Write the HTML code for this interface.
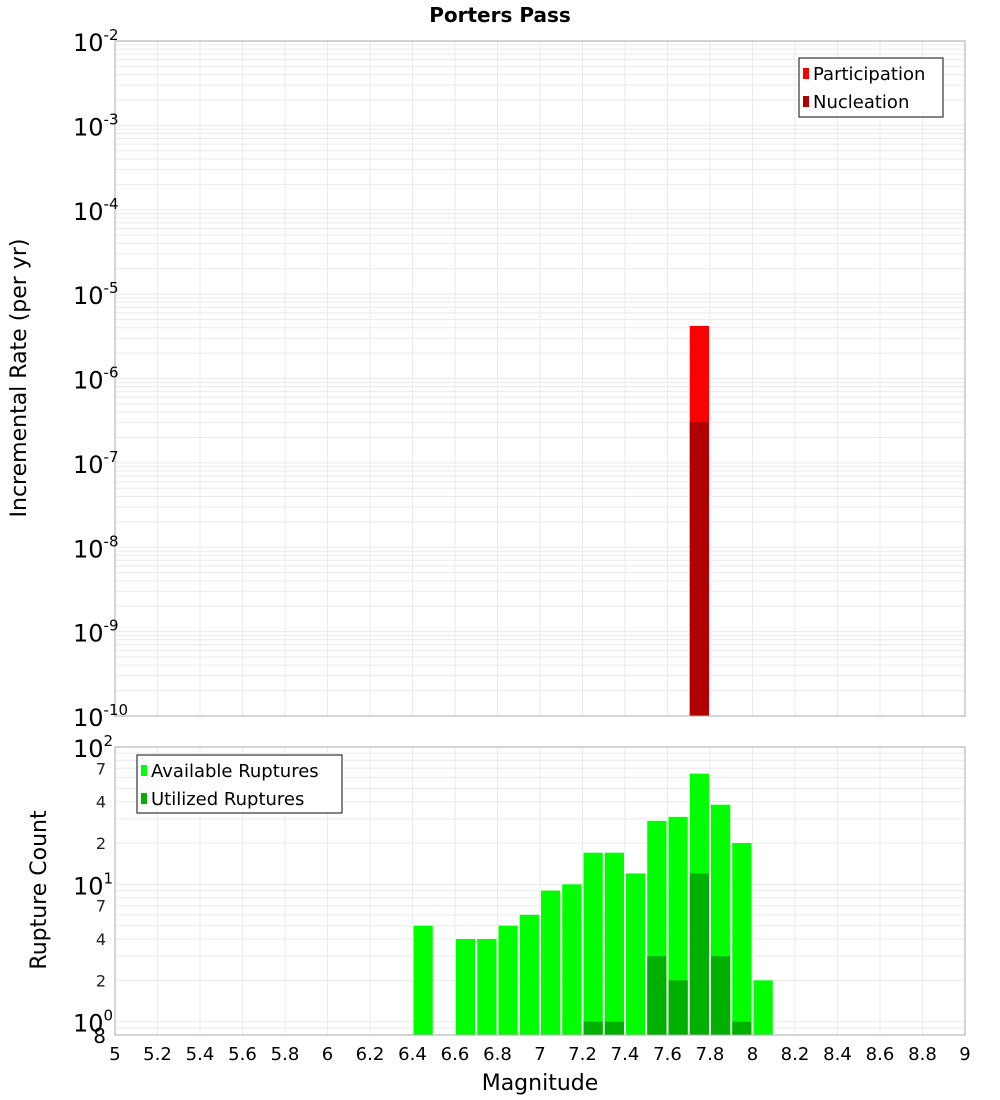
<!DOCTYPE html>
<html><head><meta charset="utf-8"><style>
body{margin:0;background:#fff;}
svg{display:block;font-family:"DejaVu Sans","Liberation Sans",sans-serif;}
</style></head><body>
<svg id="c" width="1000" height="1100" viewBox="0 0 1000 1100"></svg>
<script>
const xTicks=[5,5.2,5.4,5.6,5.8,6,6.2,6.4,6.6,6.8,7,7.2,7.4,7.6,7.8,8,8.2,8.4,8.6,8.8,9];
const xTickLabels=["5","5.2","5.4","5.6","5.8","6","6.2","6.4","6.6","6.8","7","7.2","7.4","7.6","7.8","8","8.2","8.4","8.6","8.8","9"];
const rateBins=[7.75];
const participation=[4.2e-6];
const nucleation=[3.06e-7];
const countBins=[6.45,6.65,6.75,6.85,6.95,7.05,7.15,7.25,7.35,7.45,7.55,7.65,7.75,7.85,7.95,8.05];
const available=[5,4,4,5,6,9,10,17,17,12,29,31,64,38,20,2];
const utilized=[0,0,0,0,0,0,0,1,1,0,3,2,12,3,1,0];
const topExps=[-2,-3,-4,-5,-6,-7,-8,-9,-10];
const botExps=[2,1,0];

const NS="http://www.w3.org/2000/svg";
const svg=document.getElementById('c');
function el(t,a,p){const e=document.createElementNS(NS,t);for(const k in a)e.setAttribute(k,a[k]);(p||svg).appendChild(e);return e;}
const L=115,R=965;
const X=v=>L+(v-5)/(9-5)*(R-L);
const T0=41,T1=716;
const Yt=v=>T0+(-2-Math.log10(v))/8*(T1-T0);
const B0=747,B1=1035,bMin=0.8,bMax=100;
const Yb=v=>B0+(Math.log10(bMax)-Math.log10(v))/(Math.log10(bMax)-Math.log10(bMin))*(B1-B0);

// title
let t=el('text',{x:500,y:22,'text-anchor':'middle','font-size':20,'font-weight':'bold'});t.textContent='Porters Pass';


function grids(y0,y1,yfun,lo,hi,name){
  const g=el('g',{});
  
  for(const v of xTicks){el('line',{x1:X(v),x2:X(v),y1:y0,y2:y1,stroke:'#ebebeb','stroke-width':1},g);}
  for(let e=lo;e<hi;e++){for(let m=1;m<10;m++){const v=m*Math.pow(10,e);const y=yfun(v);if(y<y0-0.5||y>y1+0.5)continue;el('line',{x1:L,x2:R,y1:y,y2:y,stroke:'#ebebeb','stroke-width':1},g);}}
}
grids(T0,T1,Yt,-10,-2,'top-grid');
grids(B0,B1,Yb,-1,2,'bottom-grid');

// top bars
const tb=el('g',{});
rateBins.forEach((m,i)=>{
  let r=el('rect',{x:X(m-0.05)+1,y:Yt(participation[i]),width:X(m+0.05)-X(m-0.05)-2,height:T1-Yt(participation[i]),fill:'#ff0000'},tb);
  
  r=el('rect',{x:X(m-0.05)+1,y:Yt(nucleation[i]),width:X(m+0.05)-X(m-0.05)-2,height:T1-Yt(nucleation[i]),fill:'#b00000'},tb);
  
});
// bottom bars
const bb=el('g',{});
countBins.forEach((m,i)=>{
  const x=X(m-0.05)+1,w=X(m+0.05)-X(m-0.05)-2;
  let r=el('rect',{x:x,y:Yb(available[i]),width:w,height:B1-Yb(available[i]),fill:'#00ff00'},bb);
  
  if(utilized[i]>0){r=el('rect',{x:x,y:Yb(utilized[i]),width:w,height:B1-Yb(utilized[i]),fill:'#00b000'},bb);
  }
});

// frames
let f=el('rect',{x:L,y:T0,width:R-L,height:T1-T0,fill:'none',stroke:'#aaa'});
f=el('rect',{x:L,y:B0,width:R-L,height:B1-B0,fill:'none',stroke:'#aaa'});

function powLabel(y,e,name){
  const tx=el('text',{x:73,y:y+10,'font-size':24});
  
  tx.textContent='10';
  const s=el('tspan',{'font-size':15,dy:-11});s.textContent=String(e);tx.appendChild(s);
}
topExps.forEach(e=>powLabel(Yt(Math.pow(10,e)),e,'y-tick-label'));
botExps.forEach(e=>powLabel(Yb(Math.pow(10,e)),e,'count-tick-label'));
// minor count labels
const minorVals=[7,4,2,70,40,20];
minorVals.forEach(v=>{const tx=el('text',{x:106,y:Yb(v)+6,'font-size':16,'text-anchor':'end',fill:'#222'});
  
  tx.textContent=String(v).charAt(0);});
t=el('text',{x:106,y:Yb(0.8)+8,'font-size':20,'text-anchor':'end'});t.textContent='8';


// x ticks
xTicks.forEach((v,i)=>{const tx=el('text',{x:X(v),y:1060,'font-size':18,'text-anchor':'middle'});
  tx.textContent=xTickLabels[i];});

t=el('text',{x:540,y:1090,'font-size':22,'text-anchor':'middle'});t.textContent='Magnitude';

t=el('text',{x:0,y:0,'font-size':22,'text-anchor':'middle',transform:'translate(26,378) rotate(-90)'});t.textContent='Incremental Rate (per yr)';

t=el('text',{x:0,y:0,'font-size':22,'text-anchor':'middle',transform:'translate(46,890) rotate(-90)'});t.textContent='Rupture Count';


function legend(x,y,w,h,items,name){
  const g=el('g',{});
  el('rect',{x:x,y:y,width:w,height:h,fill:'#fff',stroke:'#333','stroke-width':1.2},g);
  items.forEach((it,i)=>{const cy=y+15+i*28;
    el('rect',{x:x+4,y:cy-5,width:6,height:11,fill:it[1]},g);
    const tx=el('text',{x:x+14,y:cy+7,'font-size':18},g);tx.textContent=it[0];
    });
}
legend(799,58,144,59,[['Participation','#ff0000'],['Nucleation','#b00000']],'rate-legend');
legend(137,755,205,58,[['Available Ruptures','#00ff00'],['Utilized Ruptures','#00b000']],'count-legend');
</script>
</body></html>
